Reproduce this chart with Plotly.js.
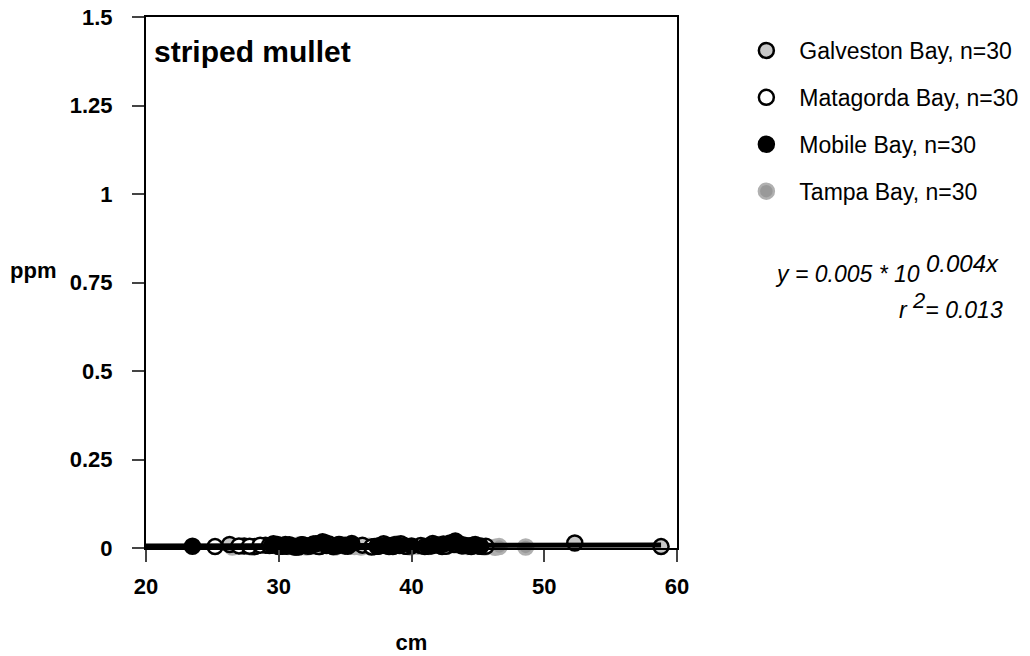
<!DOCTYPE html>
<html>
<head>
<meta charset="utf-8">
<script src="https://cdn.plot.ly/plotly-3.0.1.min.js"></script>
<style>body{margin:0;background:#fff}#chart{width:1030px;height:656px}</style>
</head>
<body>
<div id="chart"></div>
<script>
// Galveston Bay
const galvestonX = [26.3, 27.4, 28.2, 29.0, 29.6, 30.3, 30.8, 31.5, 32.0, 32.6, 33.1, 33.5, 34.0, 34.6, 35.2, 36.3, 37.2, 37.9, 38.4, 38.9, 39.6, 40.7, 41.6, 42.3, 43.0, 43.8, 44.6, 45.3, 52.3, 58.8];
const galvestonY = [0.010, 0.006, 0.004, 0.008, 0.012, 0.005, 0.009, 0.003, 0.007, 0.011, 0.004, 0.015, 0.006, 0.010, 0.005, 0.008, 0.004, 0.012, 0.006, 0.009, 0.005, 0.007, 0.013, 0.004, 0.010, 0.006, 0.008, 0.005, 0.014, 0.004];
// Matagorda Bay
const matagordaX = [25.2, 27.0, 27.8, 28.6, 29.3, 29.9, 30.6, 31.2, 31.7, 32.4, 33.0, 33.8, 34.4, 35.0, 37.0, 37.5, 38.0, 38.3, 38.7, 39.2, 39.6, 41.0, 41.5, 42.0, 42.6, 43.2, 43.9, 44.5, 45.0, 45.6];
const matagordaY = [0.004, 0.006, 0.005, 0.008, 0.007, 0.010, 0.005, 0.003, 0.009, 0.006, 0.004, 0.011, 0.006, 0.008, 0.003, 0.005, 0.007, 0.004, 0.009, 0.012, 0.005, 0.004, 0.006, 0.008, 0.005, 0.010, 0.007, 0.004, 0.006, 0.005];
// Mobile Bay
const mobileX = [23.5, 29.5, 30.0, 30.5, 31.0, 31.3, 31.8, 32.2, 32.8, 33.3, 33.6, 34.1, 34.5, 35.0, 35.5, 37.4, 38.2, 38.6, 39.1, 40.0, 41.2, 41.8, 42.4, 42.9, 43.3, 43.6, 44.0, 44.3, 44.8, 45.2];
const mobileY = [0.005, 0.008, 0.004, 0.010, 0.006, 0.003, 0.009, 0.005, 0.012, 0.018, 0.007, 0.004, 0.010, 0.006, 0.013, 0.005, 0.008, 0.004, 0.007, 0.006, 0.005, 0.009, 0.011, 0.014, 0.020, 0.012, 0.008, 0.006, 0.010, 0.005];
// Tampa Bay
const tampaX = [26.5, 27.2, 28.0, 28.8, 29.8, 30.7, 31.4, 32.1, 32.7, 33.4, 34.2, 34.9, 35.7, 36.2, 36.8, 37.6, 38.4, 38.9, 39.4, 39.9, 40.5, 41.3, 42.1, 42.7, 43.5, 44.2, 45.5, 46.3, 46.6, 48.6];
const tampaY = [0.003, 0.005, 0.002, -0.004, 0.006, 0.004, 0.008, 0.003, 0.005, 0.010, 0.002, 0.006, 0.004, 0.003, 0.005, 0.007, 0.004, 0.012, 0.006, 0.003, 0.005, 0.004, 0.010, 0.006, 0.008, 0.004, 0.003, 0.002, 0.004, 0.003];
// Fitted curve endpoints
const fitX = [20, 58.8];
const fitY = [0.006, 0.0086];

const names = ['Galveston Bay, n=30', 'Matagorda Bay, n=30', 'Mobile Bay, n=30', 'Tampa Bay, n=30'];
const yTicks = [0, 0.25, 0.5, 0.75, 1, 1.25, 1.5];
const yTickText = ['0', '0.25', '0.5', '0.75', '1', '1.25', '1.5'];
const xTicks = [20, 30, 40, 50, 60];

function pts(x, y, name, fill, line, grp, rank) {
  return {x: x, y: y, name: name, type: 'scatter', mode: 'markers', cliponaxis: false,
    legendgroup: grp, legendrank: rank,
    marker: {size: 15, color: fill, line: {color: line, width: 2.5}}};
}
const traces = [
  pts(tampaX, tampaY, names[3], '#999999', '#b0b0b0', 'd', 4),
  pts(galvestonX, galvestonY, names[0], '#c8c8c8', '#000000', 'a', 1),
  pts(matagordaX, matagordaY, names[1], '#ffffff', '#000000', 'b', 2),
  pts(mobileX, mobileY, names[2], '#000000', '#000000', 'c', 3),
  {x: fitX, y: fitY, type: 'scatter', mode: 'lines', showlegend: false, cliponaxis: false,
   line: {color: '#000', width: 5}}
];

const F = 'Liberation Sans, Arial, sans-serif';
const px = v => (v - 146) / 531;
const py = v => (548 - v) / 531;
function note(text, x, y, xa, size) {
  return {text: text, xref: 'paper', yref: 'paper', x: px(x), y: py(y), xanchor: xa, yanchor: 'middle',
    showarrow: false, font: {family: F, size: size}};
}
const layout = {
  width: 1030, height: 656,
  margin: {l: 146, r: 353, t: 17, b: 108},
  paper_bgcolor: '#fff', plot_bgcolor: '#fff',
  font: {family: F, color: '#000', size: 22},
  xaxis: {range: [20, 60], tickvals: xTicks, ticks: 'outside', ticklen: 12, tickwidth: 2,
    showline: true, linewidth: 2, linecolor: '#000', mirror: true, showgrid: false, zeroline: false,
    tickfont: {family: F, size: 22, weight: 'bold'}, ticklabelstandoff: 6,
    title: {text: '<b>cm</b>', font: {family: F, size: 22}, standoff: 36}},
  yaxis: {range: [0, 1.5], tickvals: yTicks, ticktext: yTickText, ticks: 'outside', ticklen: 12, tickwidth: 2,
    showline: true, linewidth: 2, linecolor: '#000', mirror: true, showgrid: false, zeroline: false,
    tickfont: {family: F, size: 22, weight: 'bold'}, ticklabelstandoff: 15},
  showlegend: true,
  legend: {xref: 'container', yref: 'container', x: 0.712, y: 1 - 29/656, xanchor: 'left', yanchor: 'top',
    itemwidth: 56, traceorder: 'grouped', tracegroupgap: 14,
    font: {family: F, size: 23}, bgcolor: 'rgba(0,0,0,0)'},
  annotations: [
    note('<b>striped mullet</b>', 152, 51, 'left', 30),
    note('<b>ppm</b>', 33, 270, 'center', 22),
    note('<i>y = 0.005 * 10 <sup><span style="font-size:24px">0.004x</span></sup></i>', 773, 268, 'left', 23),
    note('<i>r <sup><span style="font-size:22px">2</span></sup>= 0.013</i>', 1005, 305, 'right', 23)
  ]
};
Plotly.newPlot('chart', traces, layout, {displayModeBar: false, staticPlot: true});
</script>
</body>
</html>
